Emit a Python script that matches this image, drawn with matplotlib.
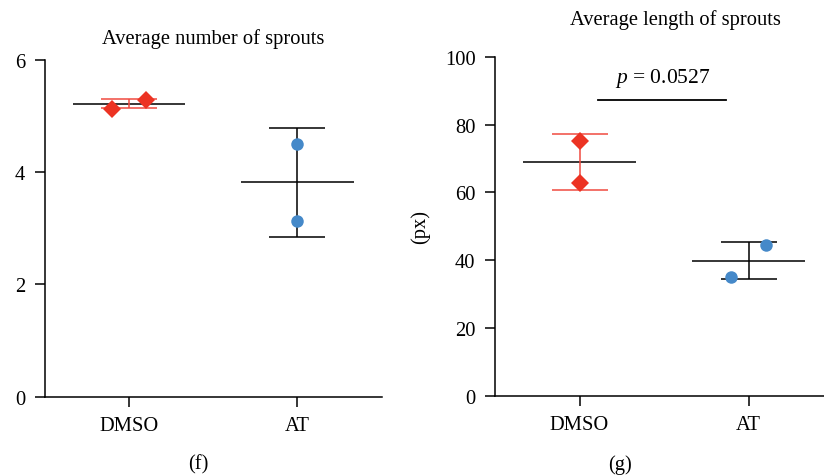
import matplotlib.pyplot as plt
import numpy as np

plt.rcParams['font.family'] = ['Liberation Serif', 'DejaVu Serif']
plt.rcParams['mathtext.fontset'] = 'custom'
plt.rcParams['mathtext.it'] = 'Liberation Serif:italic'
plt.rcParams['mathtext.rm'] = 'Liberation Serif'

# Data
categories = ['DMSO', 'AT']

# (f) average number of sprouts
num_dmso = [5.13, 5.28]
num_at = [4.50, 3.13]
num_mean = [5.22, 3.82]
num_err = [0.08, 0.97]

# (g) average length of sprouts (px)
len_dmso = [75.1, 62.7]
len_at = [35.1, 44.5]
len_mean = [68.95, 39.8]
len_err = [8.15, 5.4]
p_text = '$p$ = 0.0527'

# horizontal jitter of the dots
jit_num_dmso = [-0.1, 0.1]
jit_num_at = [0.0, 0.0]
jit_len_dmso = [0.0, 0.0]
jit_len_at = [-0.107, 0.1]

RED = '#ec3323'
RED_BAR = '#f04a40'
BLUE = '#4589c9'
FS = 14.8


def style_axes(ax, ymax, yticks):
    ax.set_xlim(-0.5, 1.5)
    ax.set_ylim(0, ymax)
    ax.set_yticks(yticks)
    ax.set_xticks(range(len(categories)))
    ax.set_xticklabels(categories)
    for s in ['top', 'right']:
        ax.spines[s].set_visible(False)
    for s in ['left', 'bottom']:
        ax.spines[s].set_linewidth(1.1)
    ax.tick_params(direction='out', length=7, width=1.1, labelsize=FS, pad=7)


def draw_group(ax, x, pts, jit, mean, err, marker, color, barcolor, msize):
    ax.hlines(mean, x - 0.333, x + 0.333, color='black', lw=1.1, zorder=2)
    ax.errorbar(x, mean, yerr=err, fmt='none', ecolor=barcolor, elinewidth=1.1,
                capsize=20.4, capthick=1.1, zorder=3)
    ax.plot(np.array(jit) + x, pts, linestyle='none', marker=marker,
            color=color, markersize=msize, markeredgewidth=0, zorder=4)


fig = plt.figure(figsize=(8.24, 4.77), dpi=100)

# left panel (f)
ax1 = fig.add_axes([0.0542, 0.1662, 0.409, 0.7065])
style_axes(ax1, 6, [0, 2, 4, 6])
draw_group(ax1, 0, num_dmso, jit_num_dmso, num_mean[0], num_err[0], 'D', RED, RED_BAR, 9.5)
draw_group(ax1, 1, num_at, jit_num_at, num_mean[1], num_err[1], 'o', BLUE, 'black', 9)

# right panel (g)
ax2 = fig.add_axes([0.6007, 0.1683, 0.4104, 0.7107])
style_axes(ax2, 100, [0, 20, 40, 60, 80, 100])
draw_group(ax2, 0, len_dmso, jit_len_dmso, len_mean[0], len_err[0], 'D', RED, RED_BAR, 9.5)
draw_group(ax2, 1, len_at, jit_len_at, len_mean[1], len_err[1], 'o', BLUE, 'black', 9)

# significance bar
ax2.plot([0.112, 0.866], [87.3, 87.3], color='black', lw=1.3)
ax2.text(0.49, 93.9, p_text, ha='center', va='center', fontsize=15.5)

# titles and labels
fig.text(213 / 824, 1 - 39.3 / 477, 'Average number of sprouts', ha='center', va='center', fontsize=FS)
fig.text(675 / 824, 1 - 20 / 477, 'Average length of sprouts', ha='center', va='center', fontsize=FS)
fig.text(420.3 / 824, 1 - 227 / 477, '(px)', ha='center', va='center', rotation=90, fontsize=FS)
fig.text(198 / 824, 1 - 465 / 477, '(f)', ha='center', va='center', fontsize=FS)
fig.text(620 / 824, 1 - 465 / 477, '(g)', ha='center', va='center', fontsize=FS)

fig.savefig('out.png', dpi=100)
